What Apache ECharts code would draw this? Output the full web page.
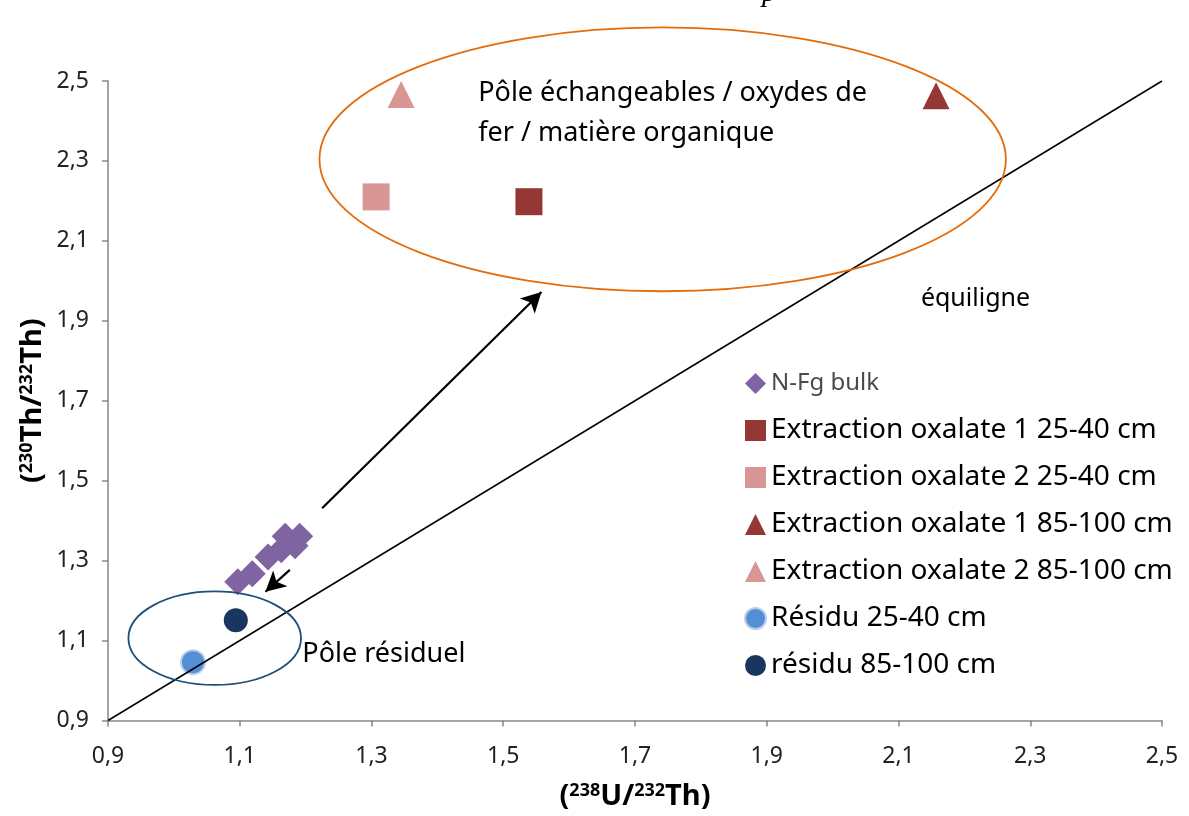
<!DOCTYPE html>
<html>
<head>
<meta charset="utf-8">
<script src="https://cdn.jsdelivr.net/npm/echarts@6/dist/echarts.min.js"></script>
<style>
  html, body { margin: 0; padding: 0; background: #fff; }
  #chart { width: 1189px; height: 816px; }
</style>
</head>
<body>
<div id="chart"></div>
<script>
// valeurs : [238U/232Th, 230Th/232Th]
var nfgBulk = [[1.097, 1.247], [1.119, 1.267], [1.143, 1.309], [1.163, 1.327], [1.169, 1.361], [1.191, 1.361], [1.184, 1.337]];
var oxal1_25 = [[1.539, 2.198]];
var oxal2_25 = [[1.307, 2.210]];
var oxal1_85 = [[2.157, 2.463]];
var oxal2_85 = [[1.345, 2.466]];
var residu25 = [[1.029, 1.046]];
var residu85 = [[1.094, 1.151]];
var equiligne = [[0.9, 0.9], [2.5, 2.5]];
var axisMin = 0.9, axisMax = 2.5, axisStep = 0.2;
var tickValues = [0.9, 1.1, 1.3, 1.5, 1.7, 1.9, 2.1, 2.3, 2.5];
var tickLabels = ['0,9', '1,1', '1,3', '1,5', '1,7', '1,9', '2,1', '2,3', '2,5'];

var legendNames = ['N-Fg bulk', 'Extraction oxalate 1 25-40 cm', 'Extraction oxalate 2 25-40 cm',
    'Extraction oxalate 1 85-100 cm', 'Extraction oxalate 2 85-100 cm', 'Résidu 25-40 cm', 'résidu 85-100 cm'];

var font = 'Noto Sans';
var supStyle = { fontSize: 18, fontWeight: 'bold', verticalAlign: 'top', color: '#000', fontFamily: font, padding: [0, 0, 12, 0] };

var chart = echarts.init(document.getElementById('chart'));

var option = {
    animation: false,
    backgroundColor: '#fff',
    textStyle: { fontFamily: font },
    grid: { left: 108, right: 27, top: 81, bottom: 90 },
    xAxis: {
        type: 'value', min: axisMin, max: axisMax, interval: axisStep,
        name: '({s|238}U/{s|232}Th)',
        nameLocation: 'middle', nameGap: 61,
        nameTextStyle: { fontSize: 29, fontWeight: 'bold', color: '#000', fontFamily: font, rich: { s: supStyle } },
        axisLine: { lineStyle: { color: '#868686', width: 1.5 } },
        axisTick: { show: true, length: 6, lineStyle: { color: '#868686', width: 1.5 } },
        axisLabel: { show: false },
        splitLine: { show: false }
    },
    yAxis: {
        type: 'value', min: axisMin, max: axisMax, interval: axisStep,
        name: '({s|230}Th/{s|232}Th)',
        nameLocation: 'middle', nameGap: 60, nameRotate: 90,
        nameTextStyle: { fontSize: 29, fontWeight: 'bold', color: '#000', fontFamily: font, rich: { s: supStyle } },
        axisLine: { show: true, lineStyle: { color: '#868686', width: 1.5 } },
        axisTick: { show: true, length: 6, lineStyle: { color: '#868686', width: 1.5 } },
        axisLabel: { show: false },
        splitLine: { show: false }
    },
    legend: {
        orient: 'vertical', left: 739, top: 362,
        itemWidth: 21, itemHeight: 21, itemGap: 14,
        textStyle: { fontSize: 28, color: '#000', lineHeight: 33, fontFamily: font },
        data: legendNames.map(function (n, i) {
            if (i === 0) return { name: n, textStyle: { fontSize: 24, color: '#4a4a4a', lineHeight: 33 } };
            return { name: n };
        })
    },
    series: [
        {
            name: 'equiligne', type: 'line', data: equiligne, showSymbol: false, silent: true,
            lineStyle: { color: '#000', width: 1.5 },
            markLine: {
                silent: true, symbol: ['none', 'arrow'], symbolSize: [16, 20],
                label: { show: false },
                lineStyle: { color: '#000', width: 2.2, type: 'solid' },
                data: [
                    [{ coord: [1.225, 1.431] }, { coord: [1.558, 1.972] }],
                    [{ coord: [1.176, 1.277] }, { coord: [1.139, 1.222] }]
                ]
            }
        },
        { name: legendNames[0], type: 'scatter', symbol: 'diamond', symbolSize: 27, data: nfgBulk, itemStyle: { color: '#8064A2', opacity: 1 } },
        { name: legendNames[1], type: 'scatter', symbol: 'rect', symbolSize: 27, data: oxal1_25, itemStyle: { color: '#953735', opacity: 1 } },
        { name: legendNames[2], type: 'scatter', symbol: 'rect', symbolSize: 27, data: oxal2_25, itemStyle: { color: '#D99694', opacity: 1 } },
        { name: legendNames[3], type: 'scatter', symbol: 'triangle', symbolSize: 27, data: oxal1_85, itemStyle: { color: '#953735', opacity: 1 } },
        { name: legendNames[4], type: 'scatter', symbol: 'triangle', symbolSize: 27, data: oxal2_85, itemStyle: { color: '#D99694', opacity: 1 } },
        { name: legendNames[5], type: 'scatter', symbol: 'circle', symbolSize: 24, data: residu25, itemStyle: { color: '#558ED5', borderColor: '#B9CFEC', borderWidth: 2, opacity: 1 } },
        { name: legendNames[6], type: 'scatter', symbol: 'circle', symbolSize: 24, data: residu85, itemStyle: { color: '#17375E', opacity: 1 } }
    ]
};
chart.setOption(option);

// annotations et graduations placées en coordonnées de données
function px(p) { return chart.convertToPixel({ gridIndex: 0 }, p); }
function ellipse(c, rx, ry, color) {
    var o = px(c), ex = px([c[0] + rx, c[1]]), ey = px([c[0], c[1] + ry]);
    return {
        type: 'ellipse', silent: true, z: 5,
        shape: { cx: o[0], cy: o[1], rx: Math.abs(ex[0] - o[0]), ry: Math.abs(o[1] - ey[1]) },
        style: { fill: 'none', stroke: color, lineWidth: 1.8 }
    };
}
function label(p, txt, size, lh) {
    var q = px(p);
    return {
        type: 'text', silent: true, z: 6, x: q[0], y: q[1],
        style: { text: txt, fontSize: size, fill: '#000', fontFamily: font, lineHeight: lh || size * 1.3, textVerticalAlign: 'top' }
    };
}

var graphics = [
    ellipse([1.742, 2.304], 0.521, 0.330, '#E46C0A'),
    ellipse([1.062, 1.106], 0.131, 0.117, '#1F4E79'),
    label([1.462, 2.52], 'Pôle échangeables / oxydes de\nfer / matière organique', 27, 40),
    label([1.195, 1.11], 'Pôle résiduel', 27),
    label([2.134, 1.995], 'équiligne', 25),
    {
        type: 'text', silent: true, x: 762, y: -22,
        style: { text: 'p', fontSize: 30, fontStyle: 'italic', fontFamily: 'Liberation Serif', fill: '#000' }
    }
];
tickValues.forEach(function (v, i) {
    var qx = px([v, axisMin]), qy = px([axisMin, v]);
    graphics.push({
        type: 'text', silent: true, x: qx[0], y: qx[1] + 36,
        style: { text: tickLabels[i], fontSize: 23, fill: '#222', fontFamily: font, textAlign: 'center', textVerticalAlign: 'middle' }
    });
    graphics.push({
        type: 'text', silent: true, x: qy[0] - 19, y: qy[1],
        style: { text: tickLabels[i], fontSize: 23, fill: '#222', fontFamily: font, textAlign: 'right', textVerticalAlign: 'middle' }
    });
});

chart.setOption({ graphic: graphics });
</script>
</body>
</html>
